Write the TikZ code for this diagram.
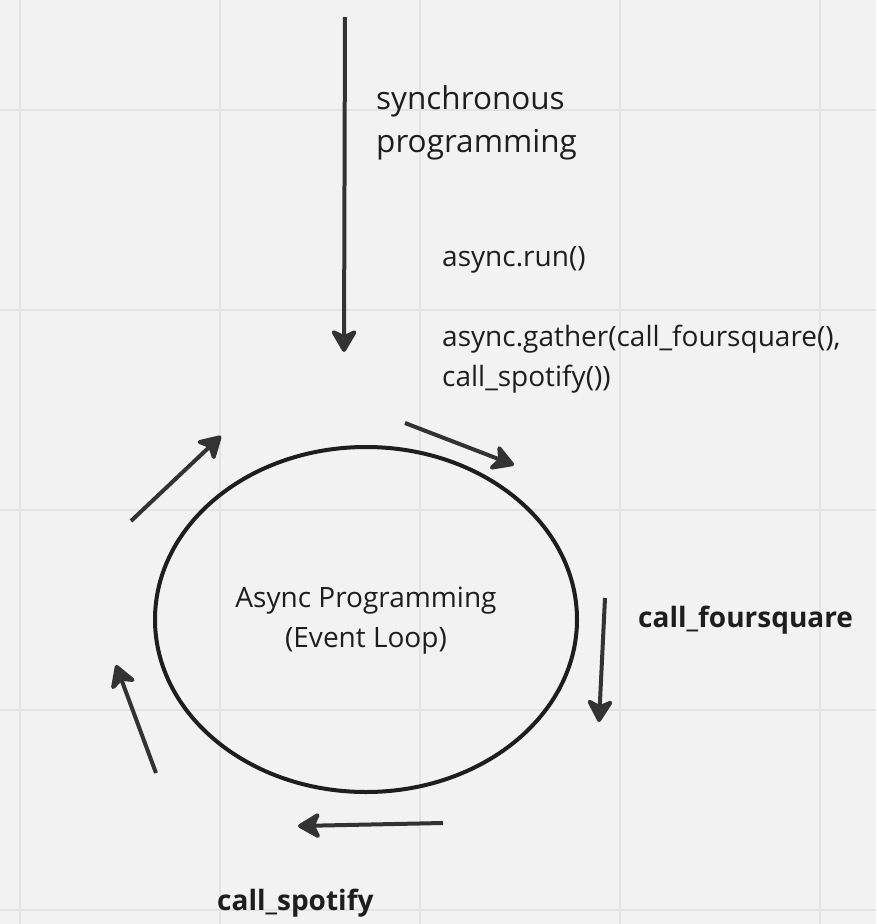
\documentclass[tikz,border=0pt]{standalone}
\usepackage{fontspec}
\setmainfont{Open Sans}
\usetikzlibrary{arrows.meta,shapes.geometric}
\definecolor{bgc}{HTML}{F2F2F2}
\definecolor{gridc}{HTML}{E3E3E3}
\definecolor{arrc}{HTML}{333333}
\definecolor{txtc}{HTML}{1E1E1E}
\tikzset{
  flow/.style={draw=arrc, line width=4pt, -{Stealth[length=26pt,width=30pt,inset=7pt,round]}},
  lbl/.style={text=txtc, inner sep=0pt, anchor=west, align=left},
  bigtxt/.style={font=\fontsize{31.5}{43}\selectfont},
  midtxt/.style={font=\fontsize{28}{40}\selectfont},
  boldtxt/.style={font=\fontsize{28}{36}\selectfont\bfseries},
}
\begin{document}
\begin{tikzpicture}[x=1pt,y=-1pt]
\fill[bgc] (0,0) rectangle (876,924);
\useasboundingbox (0,0) rectangle (876,924);
\foreach \g in {20,220,420,620,820} \draw[gridc, line width=2pt] (\g,0) -- (\g,924);
\foreach \g in {110,310,510,710,910} \draw[gridc, line width=2pt] (0,\g) -- (876,\g);

\node[draw=txtc, line width=4pt, ellipse, minimum width=422pt, minimum height=345pt, inner sep=0pt] (loop) at (366,619.5) {};
\node[text=txtc, align=center, font=\fontsize{28}{40}\selectfont] (looptxt) at (366,621) {Async Programming\\(Event Loop)};

\node[lbl, bigtxt] (sync) at (376,123) {synchronous\\programming};
\node[lbl, midtxt] (run) at (442,260) {async.run()};
\node[lbl, midtxt] (gather) at (442,359) {async.gather(call\_foursquare(),\\call\_spotify())};
\node[lbl, boldtxt] (fsq) at (638,620) {call\_foursquare};
\node[lbl, boldtxt] (spot) at (217,903) {call\_spotify};

\coordinate (a1s) at (345,17);   \coordinate (a1e) at (344,352);
\coordinate (a2s) at (405,423);  \coordinate (a2e) at (514,465);
\coordinate (a3s) at (605,598);  \coordinate (a3e) at (599,722);
\coordinate (a4s) at (443,823);  \coordinate (a4e) at (298,826);
\coordinate (a5s) at (156,773);  \coordinate (a5e) at (116,665);
\coordinate (a6s) at (131,521);  \coordinate (a6e) at (221,436);
\foreach \i in {1,...,6} \draw[flow] (a\i s) -- (a\i e);
\end{tikzpicture}
\end{document}
